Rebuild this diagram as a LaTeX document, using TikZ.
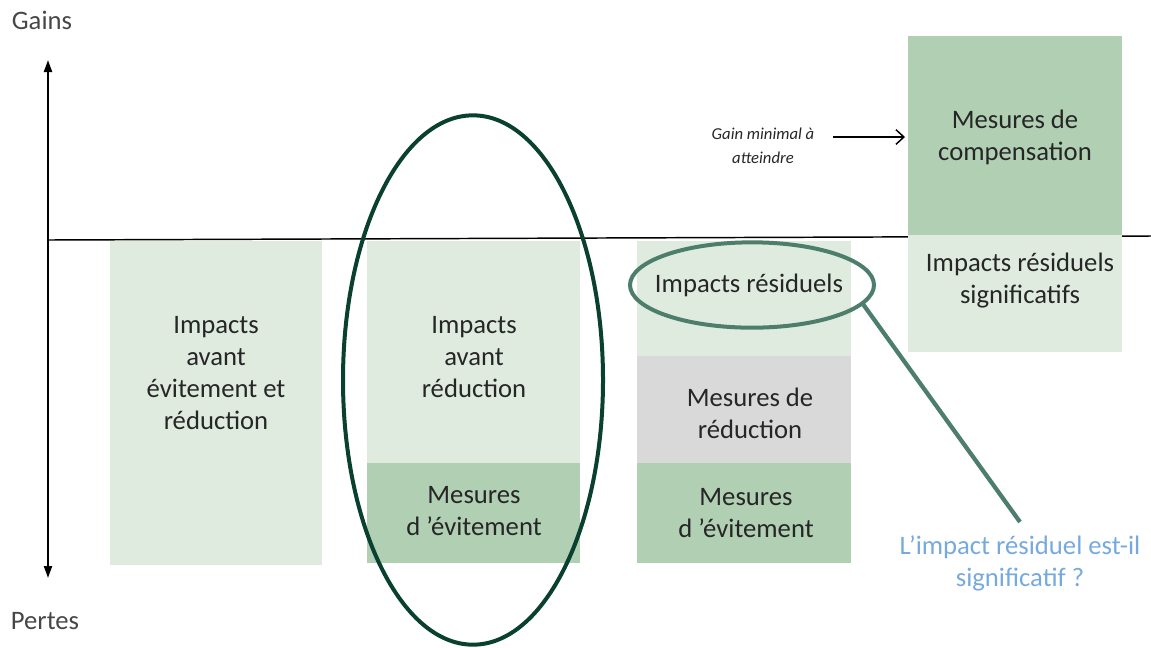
\documentclass[tikz,border=0pt]{standalone}
\usepackage{fontspec}
\setmainfont{Carlito}
\usetikzlibrary{arrows.meta, positioning, shapes.geometric}
\definecolor{pale}{HTML}{E0EBE0}
\definecolor{sage}{HTML}{B0CFB3}
\definecolor{stone}{HTML}{D9D9D9}
\definecolor{pine}{HTML}{0A4030}
\definecolor{moss}{HTML}{4D7E6B}
\definecolor{sky}{HTML}{76AADF}
\definecolor{ink}{HTML}{262626}

\begin{document}
\begin{tikzpicture}[x=0.75pt, y=-0.75pt,
    lbl/.style={align=center, text=ink, font=\fontsize{20}{24}\selectfont},
    note/.style={align=center, text=ink, font=\fontsize{12.5}{18}\selectfont\itshape},
    ring/.style={draw, ellipse, line width=3pt, inner sep=0pt}]
\useasboundingbox (0,0) rectangle (1151,647);
\pgfmathsetmacro{\base}{240}
\pgfmathsetmacro{\low}{563}
    % Axes
    \draw [{Triangle[length=9pt,width=6pt]}-{Triangle[length=9pt,width=6pt]}, line width=1.5pt] (48,60) -- (48,578);
    \draw [line width=1.1pt] (48,\base) -- (1151,236);
    \node [lbl, text=ink!85] (gains) at (42,20) {Gains};
    \node [lbl, text=ink!85] (pertes) at (45,621) {Pertes};

    % Bars
    \fill [pale] (110,\base+1) rectangle (322,565);
    \fill [pale] (367,\base+1) rectangle (580,463);
    \fill [sage] (367,463) rectangle (580,\low);
    \fill [pale] (637,\base+1) rectangle (851,356);
    \fill [stone] (637,356) rectangle (851,463);
    \fill [sage] (637,463) rectangle (851,\low);
    \fill [sage] (908,36) rectangle (1122,235);
    \fill [pale] (908,235) rectangle (1122,352);

    % Texts
    \node [lbl] (avant) at (216,373) {Impacts\\avant\\évitement et\\réduction};
    \node [lbl] (reduc) at (474,357) {Impacts\\avant\\réduction};
    \node [lbl] (evit) at (474,511) {Mesures\\d 'évitement};
    \node [lbl] (resid) at (749,285) {Impacts résiduels};
    \node [lbl] (mred) at (750,413) {Mesures de\\réduction};
    \node [lbl] (evitb) at (746,513) {Mesures\\d 'évitement};
    \node [lbl] (comp) at (1015,137) {Mesures de\\compensation};
    \node [lbl] (signif) at (1020,281) {Impacts résiduels\\significatifs};
    \node [lbl, text=sky] (quest) at (1020,563) {L’impact résiduel est-il\\significatif ?};
    \node [note] (gain) at (763,146) {Gain minimal à\\atteindre};
    \coordinate (from) at (833,137);
    \coordinate (to) at (905,137);
    \draw [-{Straight Barb[length=6pt,width=11pt]}, line width=1.1pt] (from) -- (to);

    % Rings
    \node [ring, draw=pine, minimum width=195pt, minimum height=397pt] (focus) at (473,380) {};
    \node [ring, draw=moss, minimum width=183pt, minimum height=64pt] (spot) at (752,285) {};
    \coordinate (tip) at (1020,522);
    \draw [moss, line width=3.2pt] (spot.-10) -- (tip);
\end{tikzpicture}
\end{document}
